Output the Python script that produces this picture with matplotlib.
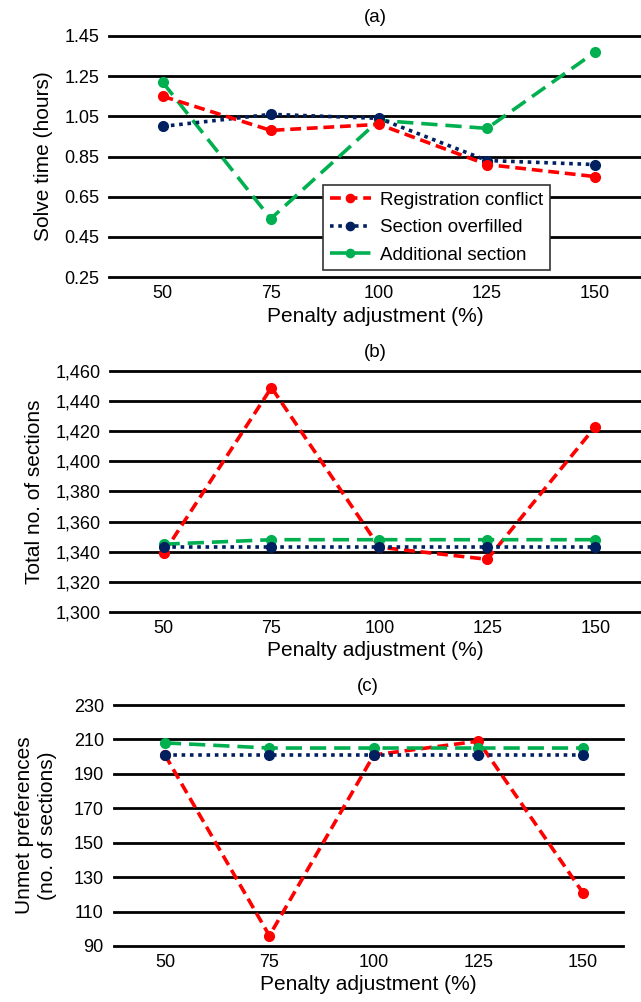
import matplotlib
matplotlib.use("Agg")
import matplotlib.pyplot as plt

plt.rcParams['font.family'] = ['Liberation Sans', 'DejaVu Sans']

penalty = [50, 75, 100, 125, 150]
series_names = ["Registration conflict", "Section overfilled", "Additional section"]

solve_reg = [1.15, 0.98, 1.01, 0.81, 0.75]
solve_over = [1.00, 1.06, 1.04, 0.83, 0.81]
solve_add = [1.22, 0.54, 1.03, 0.99, 1.37]

sections_reg = [1339, 1449, 1343, 1335, 1423]
sections_over = [1343, 1343, 1343, 1343, 1343]
sections_add = [1345, 1348, 1348, 1348, 1348]

unmet_reg = [201, 96, 201, 209, 121]
unmet_over = [201, 201, 201, 201, 201]
unmet_add = [208, 205, 205, 205, 205]

yticks_a = [0.25, 0.45, 0.65, 0.85, 1.05, 1.25, 1.45]
yticks_b = [1300, 1320, 1340, 1360, 1380, 1400, 1420, 1440, 1460]
yticks_c = [90, 110, 130, 150, 170, 190, 210, 230]

colors = ["#FF0000", "#002060", "#00B050"]
styles = [(0, (3, 1.6)), (0, (1, 1.3)), (0, (4.5, 2.2))]

W, H = 641, 1002
fig = plt.figure(figsize=(W / 100, H / 100), dpi=100)

def px_axes(left, right, top, bottom):
    return fig.add_axes([left / W, 1 - bottom / H, (right - left) / W, (bottom - top) / H])

panels = [
    dict(rect=(109, 641, 36, 277), xlim=(37.6, 160.6), data=(solve_reg, solve_over, solve_add),
         yticks=yticks_a, fmt=lambda v: f"{v:.2f}", ylabel="Solve time (hours)", title="(a)", lp=8),
    dict(rect=(110, 641, 371, 612), xlim=(37.6, 160.6), data=(sections_reg, sections_over, sections_add),
         yticks=yticks_b, fmt=lambda v: f"{v:,.0f}", ylabel="Total no. of sections", title="(b)", lp=8),
    dict(rect=(113.5, 623, 705, 946), xlim=(37.7, 159.6), data=(unmet_reg, unmet_over, unmet_add),
         yticks=yticks_c, fmt=lambda v: f"{v:.0f}", ylabel="Unmet preferences\n(no. of sections)", title="(c)", lp=12),
]

axes = []
for p in panels:
    ax = px_axes(*p["rect"])
    axes.append(ax)
    for yv in p["yticks"]:
        ax.axhline(yv, color="black", lw=2.0, clip_on=False, zorder=1)
    for i in ([2, 1, 0] if p["title"] == "(a)" else [0, 2, 1]):
        ax.plot(penalty, p["data"][i], color=colors[i], linestyle=styles[i], lw=2.6,
                marker="o", markersize=7, label=series_names[i], zorder=3, clip_on=False)
    ax.set_xlim(*p["xlim"])
    ax.set_ylim(p["yticks"][0], p["yticks"][-1])
    ax.set_xticks(penalty)
    ax.set_xticklabels([str(v) for v in penalty], fontsize=13)
    ax.set_yticks(p["yticks"])
    ax.set_yticklabels([p["fmt"](v) for v in p["yticks"]], fontsize=13)
    ax.tick_params(axis="y", length=0, pad=7)
    ax.tick_params(axis="x", length=0, pad=6)
    for s in ax.spines.values():
        s.set_visible(False)
    ax.set_xlabel("Penalty adjustment (%)", fontsize=15, labelpad=3)
    ax.set_ylabel(p["ylabel"], fontsize=15, labelpad=p["lp"], linespacing=1.25)
    ax.set_title(p["title"], fontsize=13.5, pad=10)

handles, labels = axes[0].get_legend_handles_labels()
hmap = dict(zip(labels, handles))
leg = fig.legend([hmap[n] for n in series_names], series_names,
                 loc="upper left", bbox_to_anchor=(323 / W, 1 - 185 / H),
                 fontsize=13.5, frameon=True, fancybox=False, edgecolor="#333333",
                 framealpha=1, borderpad=0.35, handlelength=2.2, labelspacing=0.55,
                 handletextpad=0.5, borderaxespad=0, markerscale=0.85)
leg.get_frame().set_linewidth(1.2)

fig.savefig("out.png", dpi=100)
